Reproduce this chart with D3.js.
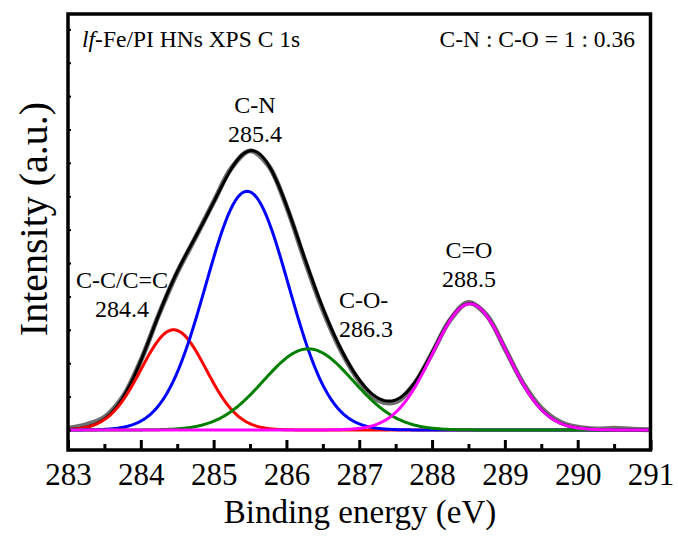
<!DOCTYPE html>
<html><head><meta charset="utf-8">
<script src="https://cdn.jsdelivr.net/npm/d3@7"></script>
<style>
html,body{margin:0;padding:0;background:#fff;}
svg{display:block;}
text{font-family:"Liberation Serif","Times New Roman",serif;fill:#000;}
</style></head>
<body>
<svg id="chart" width="678" height="536"></svg>
<script>
// ---- data ----
const peakNames   = ["C-C/C=C", "C-N", "C-O-", "C=O"];
const peakLabels  = ["284.4", "285.4", "286.3", "288.5"];
const peakCenters = [284.45, 285.46, 286.30, 288.52];   // eV
const peakHeights = [3.00, 7.15, 2.43, 3.78];           // a.u.
const peakFWHM    = [1.05, 1.34, 1.45, 1.21];           // eV
const peakColors  = ["#ff0000", "#0000ff", "#008000", "#ff00ff"];

const rawEnergy = [283.0,283.25,283.5,283.75,284.0,284.25,284.5,284.75,285.0,285.25,285.5,285.75,286.0,286.25,286.5,286.75,287.0,287.25,287.5,287.75,288.0,288.25,288.5,288.75,289.0,289.25,289.5,289.75,290.0,290.25,290.5,290.75,291.0];
const rawIntensity = [0.05,0.16,0.38,0.98,2.08,3.47,4.72,5.76,6.83,7.86,8.36,7.93,6.70,5.10,3.60,2.38,1.47,0.90,0.84,1.36,2.30,3.30,3.82,3.44,2.44,1.40,0.66,0.25,0.08,0.03,0.05,0.02,0.01];

const xTicks = [283,284,285,286,287,288,289,290,291];
const xMinorTicks = [283.5,284.5,285.5,286.5,287.5,288.5,289.5,290.5];
const yTicks = [0,1,2,3,4,5,6,7,8,9,10,11,12];

// ---- layout ----
const L = 68, R = 650.5, T = 14, B = 450;
const svg = d3.select("#chart");
const x = d3.scaleLinear().domain([283, 291]).range([L, R]);
const y = d3.scaleLinear().domain([-0.6, 12.46]).range([B, T]);

const grid = d3.range(283, 291.0001, 0.02);
function gauss(e, i) {
  const s = peakFWHM[i] / (2 * Math.sqrt(2 * Math.log(2)));
  return peakHeights[i] * Math.exp(-Math.pow(e - peakCenters[i], 2) / (2 * s * s));
}
const line = d3.line().x(d => x(d[0])).y(d => y(d[1]));

const plot = svg.append("g");
// raw data (gray)
plot.append("path")
  .datum(rawEnergy.map((e, i) => [e, rawIntensity[i]]))
  .attr("fill", "none").attr("stroke", "#6e6e6e").attr("stroke-width", 5)
  .attr("stroke-linejoin", "round")
  .attr("d", d3.line().x(d => x(d[0])).y(d => y(d[1])).curve(d3.curveCatmullRom.alpha(0.5)));
// envelope (black)
plot.append("path")
  .datum(grid.map(e => [e, peakCenters.reduce((s, _, i) => s + gauss(e, i), 0)]))
  .attr("fill", "none").attr("stroke", "#000").attr("stroke-width", 3)
  .attr("d", line);
// components
peakCenters.forEach((c, i) => {
  plot.append("path")
    .datum(grid.map(e => [e, gauss(e, i)]))
    .attr("fill", "none").attr("stroke", peakColors[i]).attr("stroke-width", 3)
    .attr("d", line);
});

// ---- axes ----
const xAxis = svg.append("g").attr("transform", `translate(0,${B})`)
  .call(d3.axisBottom(x).tickValues(xTicks).tickSize(-10).tickPadding(13).tickFormat(d3.format("d")));
xAxis.select(".domain").remove();
xAxis.selectAll(".tick line").attr("stroke", "#000").attr("stroke-width", 3);
xAxis.selectAll(".tick text").style("font-size", "31px").style("font-family", "Liberation Serif");

const xMinor = svg.append("g").attr("transform", `translate(0,${B})`)
  .call(d3.axisBottom(x).tickValues(xMinorTicks).tickSize(-6).tickFormat(""));
xMinor.select(".domain").remove();
xMinor.selectAll(".tick line").attr("stroke", "#000").attr("stroke-width", 3);

const yAxis = svg.append("g").attr("transform", `translate(${L},0)`)
  .call(d3.axisLeft(y).tickValues(yTicks).tickSize(-3).tickFormat(""));
yAxis.select(".domain").remove();
yAxis.selectAll(".tick line").attr("stroke", "#000").attr("stroke-width", 2);

// frame
svg.append("rect").attr("x", L).attr("y", T).attr("width", R - L).attr("height", B - T)
  .attr("fill", "none").attr("stroke", "#000").attr("stroke-width", 3.5);

// axis titles
svg.append("text").attr("x", 360).attr("y", 523).attr("text-anchor", "middle")
  .style("font-size", "33px").text("Binding energy (eV)");
svg.append("text").attr("transform", "translate(47,219) rotate(-90)").attr("text-anchor", "middle")
  .style("font-size", "40px").text("Intensity (a.u.)");

// corner annotations
const tl = svg.append("text").attr("x", 82).attr("y", 47).style("font-size", "23.5px");
tl.append("tspan").style("font-style", "italic").text("lf");
tl.append("tspan").text("-Fe/PI HNs XPS C 1s");
svg.append("text").attr("x", 635).attr("y", 47).attr("text-anchor", "end")
  .style("font-size", "23.5px").text("C-N : C-O = 1 : 0.36");

// peak labels
const labelPos = [
  {x: 122, y: 288, anchor: "middle"},
  {x: 255, y: 113, anchor: "middle"},
  {x: 339, y: 308, anchor: "start"},
  {x: 469, y: 258, anchor: "middle"}
];
peakNames.forEach((n, i) => {
  const p = labelPos[i];
  svg.append("text").attr("x", p.x).attr("y", p.y).attr("text-anchor", p.anchor)
    .style("font-size", "24px").text(n);
  svg.append("text").attr("x", p.x).attr("y", p.y + 29).attr("text-anchor", p.anchor)
    .style("font-size", "24px").text(peakLabels[i]);
});
</script>
</body></html>
